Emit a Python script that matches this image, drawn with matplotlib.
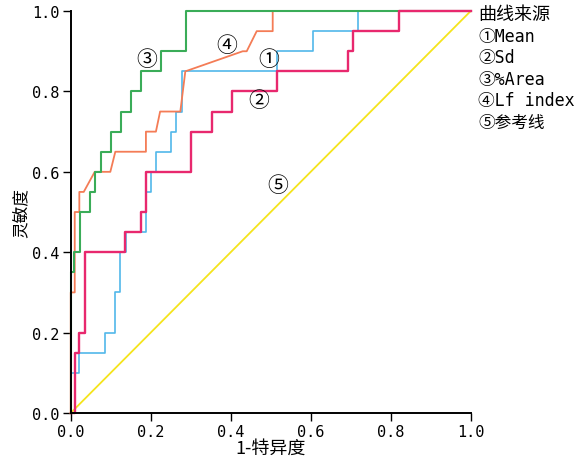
import matplotlib
matplotlib.use("Agg")
import matplotlib.pyplot as plt

# ROC curves (1-specificity, sensitivity)
mean_fpr = [0, 0, 0.0215, 0.0215, 0.085, 0.085, 0.111, 0.111, 0.123, 0.123, 0.1375, 0.1375,
            0.1875, 0.1875, 0.2, 0.2, 0.2125, 0.2125, 0.25, 0.25, 0.2625, 0.2625, 0.2775, 0.2775,
            0.5165, 0.5165, 0.6065, 0.6065, 0.719, 0.719, 1.0]
mean_tpr = [0, 0.1, 0.1, 0.15, 0.15, 0.2, 0.2, 0.3, 0.3, 0.4, 0.4, 0.45,
            0.45, 0.55, 0.55, 0.6, 0.6, 0.65, 0.65, 0.7, 0.7, 0.75, 0.75, 0.85,
            0.85, 0.9, 0.9, 0.95, 0.95, 1.0, 1.0]

sd_fpr = [0, 0.01, 0.01, 0.0215, 0.0215, 0.035, 0.035, 0.136, 0.136, 0.175, 0.175, 0.1875,
          0.1875, 0.3, 0.3, 0.3525, 0.3525, 0.4025, 0.4025, 0.5165, 0.5165, 0.694, 0.694,
          0.7065, 0.7065, 0.8215, 0.8215, 1.0]
sd_tpr = [0, 0, 0.15, 0.15, 0.2, 0.2, 0.4, 0.4, 0.45, 0.45, 0.5, 0.5,
          0.6, 0.6, 0.7, 0.7, 0.75, 0.75, 0.8, 0.8, 0.85, 0.85, 0.9,
          0.9, 0.95, 0.95, 1.0, 1.0]

area_fpr = [0, 0, 0.0075, 0.0075, 0.0225, 0.0225, 0.0475, 0.0475, 0.06, 0.06, 0.075, 0.075,
            0.1, 0.1, 0.125, 0.125, 0.15, 0.15, 0.175, 0.175, 0.225, 0.225, 0.2875, 0.2875, 1.0]
area_tpr = [0, 0.35, 0.35, 0.4, 0.4, 0.5, 0.5, 0.55, 0.55, 0.6, 0.6, 0.65,
            0.65, 0.7, 0.7, 0.75, 0.75, 0.8, 0.8, 0.85, 0.85, 0.9, 0.9, 1.0, 1.0]

lf_fpr = [0, 0, 0.01, 0.01, 0.0215, 0.0215, 0.0325, 0.06, 0.099, 0.1115, 0.188, 0.188,
          0.213, 0.2235, 0.274, 0.2865, 0.43, 0.44, 0.465, 0.505, 0.505, 1.0]
lf_tpr = [0, 0.3, 0.3, 0.5, 0.5, 0.55, 0.55, 0.6, 0.6, 0.65, 0.65, 0.7,
          0.7, 0.75, 0.75, 0.85, 0.9, 0.9, 0.95, 0.95, 1.0, 1.0]

ref_x = [0, 1]
ref_y = [0, 1]

legend_title = "曲线来源"
legend_items = ["①Mean", "②Sd", "③%Area", "④Lf index", "⑤参考线"]

cjk = ["Noto Sans CJK SC", "DejaVu Sans"]
mono = ["DejaVu Sans Mono", "Noto Sans CJK SC"]

fig = plt.figure(figsize=(5.85, 4.64), dpi=100)
ax = fig.add_axes([0.1209, 0.1078, 0.6837, 0.8662])

ax.plot(ref_x, ref_y, color="#f5e41c", linewidth=1.3, clip_on=False)
ax.plot(mean_fpr, mean_tpr, color="#52b8ea", linewidth=1.2, clip_on=False)
ax.plot(lf_fpr, lf_tpr, color="#f47c56", linewidth=1.3, clip_on=False)
ax.plot(area_fpr, area_tpr, color="#3aac58", linewidth=1.5, clip_on=False)
ax.plot(sd_fpr, sd_tpr, color="#e8286e", linewidth=1.7, clip_on=False)

ax.set_xlim(0, 1)
ax.set_ylim(0, 1)
ax.set_xticks([0, 0.2, 0.4, 0.6, 0.8, 1.0])
ax.set_yticks([0, 0.2, 0.4, 0.6, 0.8, 1.0])
ax.set_xticklabels(["0.0", "0.2", "0.4", "0.6", "0.8", "1.0"], family=mono, fontsize=11)
ax.set_yticklabels(["0.0", "0.2", "0.4", "0.6", "0.8", "1.0"], family=mono, fontsize=11)
ax.tick_params(direction="out", length=6, width=1, color="black", pad=2)
ax.spines["right"].set_visible(False)
ax.spines["top"].set_visible(False)
ax.spines["left"].set_linewidth(1.4)
ax.spines["bottom"].set_linewidth(1.4)

ax.set_xlabel("1-特异度", family=cjk, fontsize=13, labelpad=0)
ax.set_ylabel("灵敏度", family=cjk, fontsize=12, labelpad=2)

# curve tags
tag_kw = dict(family=cjk, fontsize=15, ha="center", va="center")
ax.text(0.19, 0.88, "③", **tag_kw)
ax.text(0.39, 0.915, "④", **tag_kw)
ax.text(0.494, 0.88, "①", **tag_kw)
ax.text(0.469, 0.779, "②", **tag_kw)
ax.text(0.518, 0.567, "⑤", **tag_kw)

# legend as plain text on the right
fig.text(478 / 585, 1 - 15 / 464, legend_title, family=cjk, fontsize=13, va="center")
for i, item in enumerate(legend_items):
    fig.text(478 / 585, 1 - (37 + 21.4 * i) / 464, item, family=mono, fontsize=12, va="center")

fig.savefig("out.png", dpi=100)
